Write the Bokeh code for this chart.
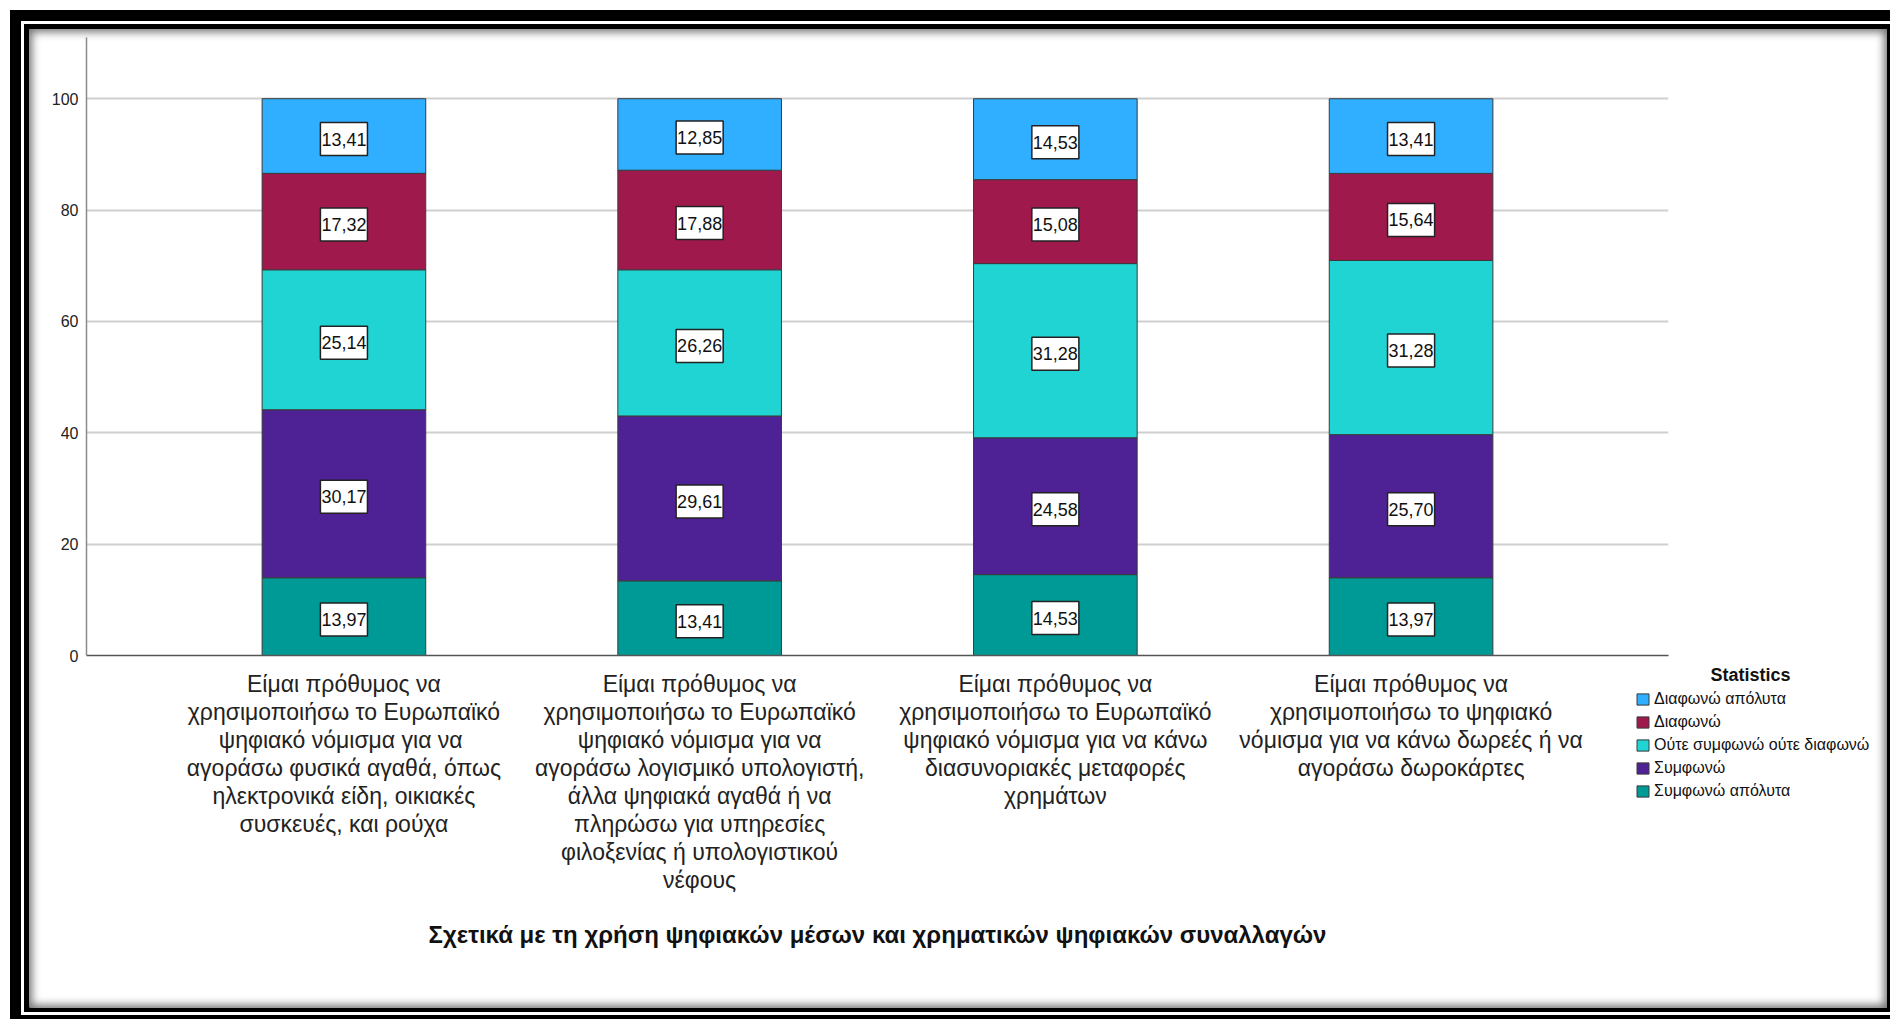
from bokeh.plotting import figure
from bokeh.models import (Range1d, Legend, LegendItem, Label, ColumnDataSource, FixedTicker)
from bokeh.layouts import column
from bokeh.embed import file_html
from bokeh.resources import INLINE
from bokeh.core.properties import value

categories = [
    "Είμαι πρόθυμος να\nχρησιμοποιήσω το Ευρωπαϊκό\nψηφιακό νόμισμα  για να\nαγοράσω φυσικά αγαθά, όπως\nηλεκτρονικά είδη, οικιακές\nσυσκευές, και ρούχα",
    "Είμαι πρόθυμος να\nχρησιμοποιήσω το Ευρωπαϊκό\nψηφιακό νόμισμα για να\nαγοράσω λογισμικό υπολογιστή,\nάλλα ψηφιακά αγαθά ή να\nπληρώσω για υπηρεσίες\nφιλοξενίας ή υπολογιστικού\nνέφους",
    "Είμαι πρόθυμος να\nχρησιμοποιήσω το Ευρωπαϊκό\nψηφιακό νόμισμα για να κάνω\nδιασυνοριακές μεταφορές\nχρημάτων",
    "Είμαι πρόθυμος να\nχρησιμοποιήσω το ψηφιακό\nνόμισμα για να κάνω δωρεές ή να\nαγοράσω δωροκάρτες",
]
series = ["Συμφωνώ απόλυτα", "Συμφωνώ", "Ούτε συμφωνώ ούτε διαφωνώ", "Διαφωνώ", "Διαφωνώ απόλυτα"]
agree_fully = [13.97, 13.41, 14.53, 13.97]
agree = [30.17, 29.61, 24.58, 25.70]
neutral = [25.14, 26.26, 31.28, 31.28]
disagree = [17.32, 17.88, 15.08, 15.64]
disagree_fully = [13.41, 12.85, 14.53, 13.41]
colors = ["#009A96", "#4E2194", "#21D4D4", "#A0194D", "#30AEFF"]
y_ticks = [0, 20, 40, 60, 80, 100]
x_title = "Σχετικά με τη χρήση ψηφιακών μέσων και χρηματικών ψηφιακών συναλλαγών"
legend_title = "Statistics"

values = [agree_fully, agree, neutral, disagree, disagree_fully]
keys = ["s0", "s1", "s2", "s3", "s4"]
xs = [i + 1 for i in range(len(categories))]

data = {"x": xs}
for k, v in zip(keys, values):
    data[k] = v
src = ColumnDataSource(data)

# label positions (segment centres)
lx, ly, lt = [], [], []
for ci, x in enumerate(xs):
    base = 0.0
    for v in values:
        val = v[ci]
        lx.append(x)
        ly.append(base + val / 2.0)
        lt.append(f"{val:.2f}".replace(".", ","))
        base += val
lsrc = ColumnDataSource(dict(x=lx, y=ly, t=lt))

FONT = "'Liberation Sans', Arial, sans-serif"

# ---- layout numbers (pixels)
W = 1858
LEFT, RIGHT, TOPB, BOTB = 57, 219, 8, 8
TOP_H = TOPB + 618 + BOTB   # height of the chart part
BOT_H = 979 - TOP_H         # height of the label / legend part
X0, X1 = 0.2763, 4.7237
px_per_unit = (W - LEFT - RIGHT) / (X1 - X0)

# ---- chart part
p = figure(width=W, height=TOP_H, output_backend="svg", toolbar_location=None,
           x_range=Range1d(X0, X1), y_range=Range1d(0, 111),
           min_border_left=LEFT, min_border_right=RIGHT, min_border_top=TOPB,
           min_border_bottom=BOTB, outline_line_color=None, frame_align=False,
           background_fill_alpha=0, border_fill_alpha=0)

rs = p.vbar_stack(keys, x="x", width=0.46, source=src, fill_color=colors,
                  line_color="#3a3a3a", line_width=1)

p.text(x="x", y="y", text="t", source=lsrc, text_align="center",
       text_baseline="middle", text_font=value(FONT), text_font_size="18px",
       text_color="#111", background_fill_color="white",
       border_line_color="#222", border_line_width=1.5, y_offset=3,
       padding=dict(left=1, right=1, top=10, bottom=10))

p.yaxis.ticker = FixedTicker(ticks=y_ticks)
p.yaxis.major_tick_line_color = None
p.yaxis.major_tick_out = 0
p.yaxis.minor_tick_line_color = None
p.yaxis.axis_line_color = "#8a8a8a"
p.yaxis.axis_line_width = 1.5
p.yaxis.major_label_text_font = FONT
p.yaxis.major_label_text_font_size = "16px"
p.yaxis.major_label_text_color = "#222"
p.yaxis.major_label_standoff = 8

p.xaxis.ticker = FixedTicker(ticks=[])
p.xaxis.major_tick_line_color = None
p.xaxis.major_tick_out = 0
p.xaxis.major_tick_in = 0
p.xaxis.minor_tick_line_color = None
p.xaxis.major_label_standoff = 0
p.xaxis.axis_line_color = "#555"
p.xaxis.axis_line_width = 1.5

p.ygrid.grid_line_color = "#cfcfcf"
p.ygrid.grid_line_width = 2
p.xgrid.visible = False

# ---- label / legend part (same x scale, frame covers the whole area)
bx0 = X0 - LEFT / px_per_unit
bx1 = bx0 + W / px_per_unit
pb = figure(width=W, height=BOT_H, output_backend="svg", toolbar_location=None,
            x_range=Range1d(bx0, bx1), y_range=Range1d(0, BOT_H), min_border=0,
            min_border_left=0, min_border_right=0, min_border_top=0,
            min_border_bottom=0, frame_align=False,
            outline_line_color=None, background_fill_alpha=0, border_fill_alpha=0)
pb.axis.visible = False
pb.grid.visible = False

csrc = ColumnDataSource(dict(x=xs, y=[BOT_H - 7] * len(xs), t=categories))
pb.text(x="x", y="y", text="t", source=csrc, text_align="center",
        text_baseline="top", text_font=value(FONT), text_font_size="23px",
        text_color="#222", text_line_height=1.08)

pb.add_layout(Label(x=(X0 + X1) / 2, y=BOT_H - 271, text=x_title, text_font=FONT,
                    text_font_style="bold", text_font_size="24px",
                    text_align="center", text_baseline="middle", text_color="#111"))

lrs = [pb.vbar(x=[bx0 - 5], top=[1], width=0.1, fill_color=c, line_color="#3a3a3a",
               line_width=1) for c in colors]
items = [LegendItem(label=series[i], renderers=[lrs[i]]) for i in reversed(range(len(series)))]
legend = Legend(items=items, location=(1606, 208), border_line_color=None,
                background_fill_alpha=0, padding=0, margin=0, glyph_width=15,
                glyph_height=14, label_standoff=4, spacing=5, label_height=14,
                label_text_font=FONT, label_text_font_size="16px",
                label_text_color="#111")
pb.add_layout(legend)
pb.add_layout(Label(x=1721, y=334, x_units="screen", y_units="screen",
                    text=legend_title, text_font=FONT, text_font_style="bold",
                    text_font_size="18px", text_align="center",
                    text_baseline="middle", text_color="#111"))

content = column(p, pb, spacing=0,
                 styles={"background-color": "white",
                         "box-shadow": "inset 0 0 9px 3px rgba(0,0,0,0.55)"})
inner = column(content, styles={"background-color": "black", "padding": "5px 3px 4px 5px"})
mid = column(inner, styles={"background-color": "white", "padding": "3px 0px 3px 3px"})
outer = column(mid, styles={"background-color": "black", "padding": "11px 0px 4px 11px"},
               margin=(10, 0, 0, 10))

open("out.html", "w").write(file_html(outer, INLINE))
